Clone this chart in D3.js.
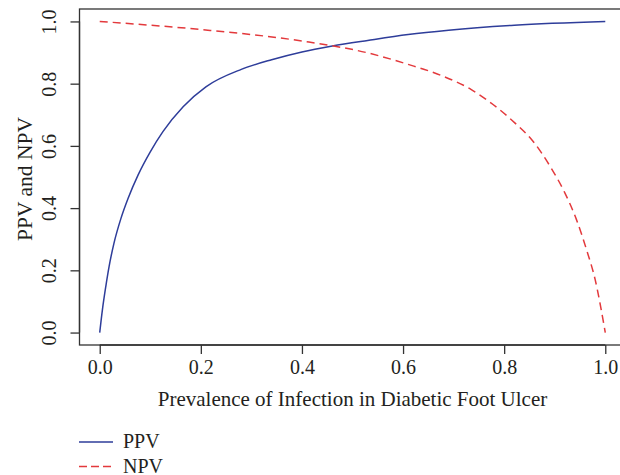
<!DOCTYPE html>
<html>
<head>
<meta charset="utf-8">
<script src="https://cdn.jsdelivr.net/npm/d3@7"></script>
<style>
  body { margin: 0; background: #fff; }
  svg text { font-family: "Liberation Serif", "Times New Roman", serif; fill: #231f20; }
</style>
</head>
<body>
<svg id="chart"></svg>
<script>
// PPV curve
const ppvPrev = [0, 0.0053, 0.012, 0.0185, 0.028, 0.042, 0.056, 0.076, 0.1, 0.125, 0.165, 0.21, 0.28, 0.34, 0.4, 0.46, 0.53, 0.61, 0.69, 0.82, 1.0];
const ppvValues = [0, 0.073, 0.148, 0.212, 0.286, 0.367, 0.431, 0.507, 0.581, 0.646, 0.726, 0.79, 0.846, 0.877, 0.902, 0.921, 0.939, 0.958, 0.972, 0.988, 1.0];

// NPV curve
const npvPrev = [0, 0.2, 0.4, 0.53, 0.61, 0.676, 0.735, 0.778, 0.821, 0.857, 0.891, 0.92, 0.943, 0.963, 0.98, 1.0];
const npvValues = [1.0, 0.974, 0.937, 0.899, 0.862, 0.826, 0.781, 0.733, 0.674, 0.615, 0.534, 0.449, 0.363, 0.266, 0.17, 0.0];

const xTicks = [0, 0.2, 0.4, 0.6, 0.8, 1.0];
const yTicks = [0, 0.2, 0.4, 0.6, 0.8, 1.0];
const seriesNames = ["PPV", "NPV"];

const width = 620;
const height = 475;
const blue = "#2e3d9a";
const red = "#e3393c";

const svg = d3.select("#chart").attr("width", width).attr("height", height);

// R-style 4% padding around data range
const x = d3.scaleLinear().domain([-0.04, 1.04]).range([79.5, 625.5]);
const y = d3.scaleLinear().domain([-0.04, 1.04]).range([345, 9]);

// box (right edge falls outside the picture)
svg.append("rect")
    .attr("x", x(-0.04))
    .attr("y", y(1.04))
    .attr("width", x(1.04) - x(-0.04))
    .attr("height", y(-0.04) - y(1.04))
    .attr("fill", "none")
    .attr("stroke", "#333")
    .attr("stroke-width", 1.3);

// x axis
const xAxis = d3.axisBottom(x)
    .tickValues(xTicks)
    .tickFormat(d3.format(".1f"))
    .tickSize(9)
    .tickPadding(6);

const gx = svg.append("g")
    .attr("transform", `translate(0,${y(-0.04)})`)
    .call(xAxis);
gx.select(".domain")
    .attr("d", `M${x(0)},0H${x(1)}`)
    .attr("stroke", "#333")
    .attr("stroke-width", 1.3);
gx.selectAll(".tick line").attr("stroke", "#333").attr("stroke-width", 1.3);
gx.selectAll(".tick text")
    .attr("font-family", null)
    .attr("font-size", 20)
    .attr("dy", "0.71em");

// y axis
const yAxis = d3.axisLeft(y)
    .tickValues(yTicks)
    .tickFormat(d3.format(".1f"))
    .tickSize(9)
    .tickPadding(6);

const gy = svg.append("g")
    .attr("transform", `translate(${x(-0.04)},0)`)
    .call(yAxis);
gy.select(".domain")
    .attr("d", `M0,${y(0)}V${y(1)}`)
    .attr("stroke", "#333")
    .attr("stroke-width", 1.3);
gy.selectAll(".tick line").attr("stroke", "#333").attr("stroke-width", 1.3);
gy.selectAll(".tick text")
    .attr("font-family", null)
    .attr("font-size", 20)
    .attr("x", null)
    .attr("dy", null)
    .attr("text-anchor", "middle")
    .attr("transform", "translate(-24,0) rotate(-90)");

// axis titles
svg.append("text")
    .attr("x", (x(-0.04) + x(1.04)) / 2)
    .attr("y", 406)
    .attr("text-anchor", "middle")
    .attr("font-size", 21)
    .text("Prevalence of Infection in Diabetic Foot Ulcer");

svg.append("text")
    .attr("transform", `translate(32,${(y(-0.04) + y(1.04)) / 2 + 2}) rotate(-90)`)
    .attr("text-anchor", "middle")
    .attr("font-size", 21.5)
    .text("PPV and NPV");

// curves
const line = d3.line()
    .x((d) => x(d[0]))
    .y((d) => y(d[1]))
    .curve(d3.curveMonotoneX);

svg.append("path")
    .datum(d3.zip(ppvPrev, ppvValues))
    .attr("d", line)
    .attr("fill", "none")
    .attr("stroke", blue)
    .attr("stroke-width", 1.5);

svg.append("path")
    .datum(d3.zip(npvPrev, npvValues))
    .attr("d", line)
    .attr("fill", "none")
    .attr("stroke", red)
    .attr("stroke-width", 1.5)
    .attr("stroke-dasharray", "8,5");

// legend below the plot
const legend = svg.append("g").attr("transform", "translate(79,442)");
const colors = [blue, red];
const dashes = [null, "8,4"];
seriesNames.forEach((name, i) => {
    const row = legend.append("g").attr("transform", `translate(0,${i * 24.5})`);
    row.append("line")
        .attr("x1", 0)
        .attr("x2", 34)
        .attr("stroke", colors[i])
        .attr("stroke-width", 1.5)
        .attr("stroke-dasharray", dashes[i]);
    row.append("text")
        .attr("x", 44)
        .attr("y", 6)
        .attr("font-size", 20)
        .text(name);
});
</script>
</body>
</html>
